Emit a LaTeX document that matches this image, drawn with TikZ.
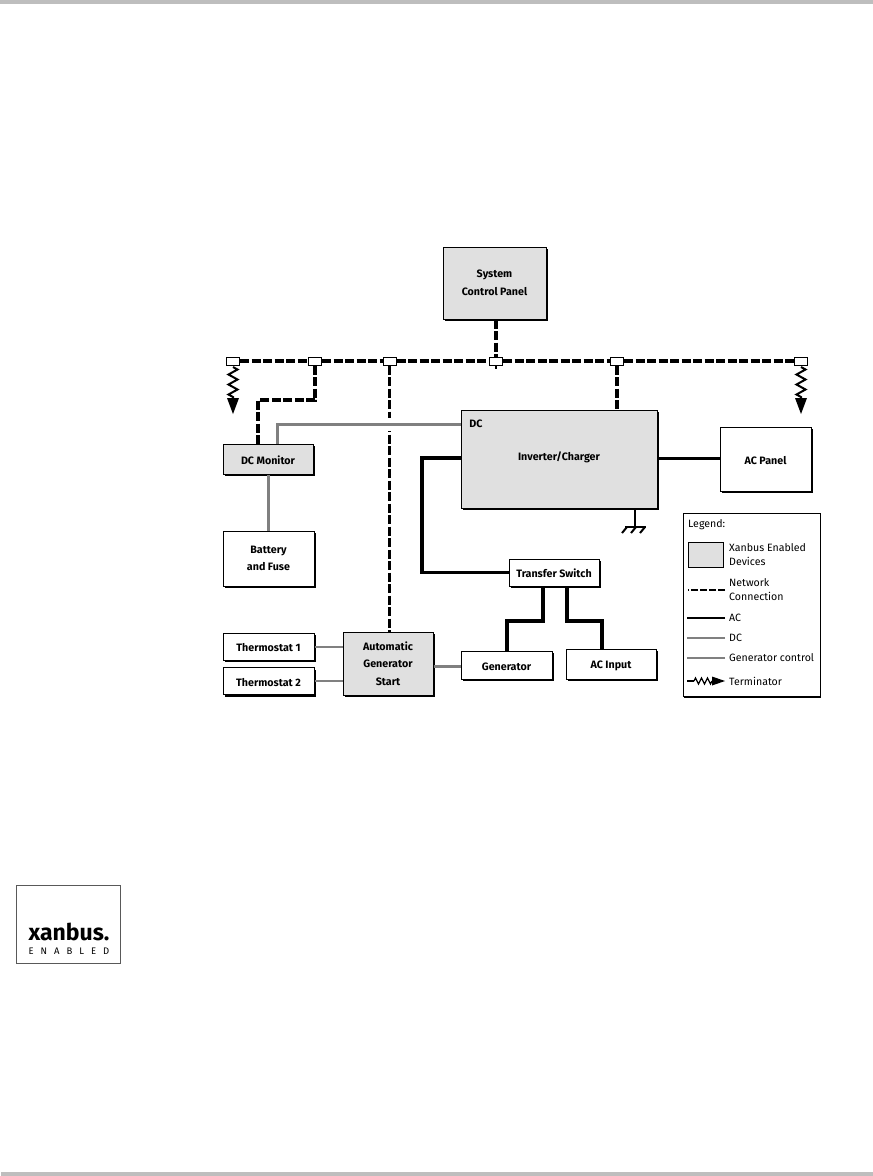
\documentclass[tikz,border=0pt]{standalone}
\usepackage{fontspec}
\setmainfont{Fira Sans}
\usetikzlibrary{shadows,decorations.pathmorphing}
\definecolor{devgray}{HTML}{E0E0E0}
\definecolor{wiregray}{HTML}{808080}
\definecolor{pagegray}{HTML}{BEBEBE}
\tikzset{
  plainbox/.style={draw=black,fill=white,line width=1pt,align=center,font=\fontsize{10.7}{17.5}\selectfont\bfseries,inner sep=0pt,
    execute at begin node={\rule{0pt}{11pt}},
    drop shadow={shadow xshift=2pt,shadow yshift=-2pt,fill=black,opacity=1}},
  devbox/.style={plainbox,fill=devgray},
  lowtext/.style={execute at begin node={\rule{0pt}{15pt}}},
  boxlabel/.style={font=\fontsize{10.7}{13}\selectfont\bfseries,inner sep=0pt},
  tapbox/.style={draw=black,fill=white,line width=1pt,minimum width=13,minimum height=8,inner sep=0pt},
  netwire/.style={line width=3.8pt,dash pattern=on 9pt off 2.5pt},
  acwire/.style={line width=3.8pt},
  dcwire/.style={line width=3pt,draw=wiregray},
  genwire/.style={line width=2pt,draw=wiregray},
  termwire/.style={line width=2pt,decorate,decoration={zigzag,amplitude=4.5pt,segment length=10pt}},
  legtext/.style={anchor=west,align=left,font=\fontsize{10.6}{14}\selectfont,inner sep=0pt},
}
\begin{document}
\begin{tikzpicture}[x=1pt,y=-1pt]
\useasboundingbox (0,0) rectangle (873,1176);
\fill[pagegray] (0,0) rectangle (873,4);
\fill[pagegray] (1,1172) rectangle (873,1176);

\node[devbox,lowtext,minimum width=103,minimum height=72] (panel) at (494.5,283) {System\\Control Panel};
\node[devbox,minimum width=196,minimum height=98] (inverter) at (559,459) {};
\node[boxlabel] (invlabel) at (559,457) {Inverter/Charger};
\node[boxlabel] (dclabel) at (476,424) {DC};
\node[plainbox,minimum width=91,minimum height=64] (acpanel) at (765.5,459) {AC Panel};
\node[devbox,minimum width=90,minimum height=30] (dcmonitor) at (268,459) {DC Monitor};
\node[plainbox,lowtext,minimum width=91,minimum height=55] (battery) at (268.5,558.5) {Battery\\and Fuse};
\node[plainbox,minimum width=90,minimum height=27] (transfer) at (554,572.5) {Transfer Switch};
\node[plainbox,minimum width=91,minimum height=27] (thermo1) at (268.5,646.5) {Thermostat 1};
\node[plainbox,minimum width=91,minimum height=27] (thermo2) at (268.5,681) {Thermostat 2};
\node[devbox,lowtext,minimum width=90,minimum height=63] (ags) at (388,663.5) {Automatic\\Generator\\Start};
\node[plainbox,minimum width=91,minimum height=28] (generator) at (506.5,665) {Generator};
\node[plainbox,minimum width=90,minimum height=30] (acinput) at (611,664) {AC Input};

% bus tap points
\node[tapbox] (tapa) at (233,361) {};
\node[tapbox] (tapb) at (315,361) {};
\node[tapbox] (tapc) at (389.5,361) {};
\node[tapbox] (tapd) at (496,361) {};
\node[tapbox] (tape) at (617,361) {};
\node[tapbox] (tapf) at (801,361) {};

\draw[netwire] (tapa) -- (tapb);
\draw[netwire] (tapb) -- (tapc);
\draw[netwire] (tapc) -- (tapd);
\draw[netwire] (tapd) -- (tape);
\draw[netwire] (tape) -- (tapf);
\draw[netwire] (panel.south -| tapd) -- (tapd);
\draw[line width=2pt] (tapd.south) -- ++(0,3);
\draw[netwire] (tape) -- (tape |- inverter.north);
\draw[netwire,line width=3pt] (tapc) -- (tapc |- ags.north);
\coordinate (dcknee) at (315,400);
\coordinate (dcdown) at (258,400);
\draw[netwire] (tapb) -- (dcknee) -- (dcdown) -- (258,444);

% DC wiring, with a gap where it crosses the network drop
\coordinate (dcup) at (277,424);
\draw[white,line width=13pt] (382,424) -- (397,424);
\draw[dcwire] (277,444) -- (dcup) -- (461,424);
\draw[dcwire] (dcmonitor.south -| battery) -- (battery);
\draw[dcwire] (ags.east |- 0,666) -- (generator.west |- 0,666);

% AC wiring
\draw[acwire] (inverter.west |- 0,458) -- (422,458) |- (transfer.west);
\draw[line width=3pt] (inverter.east |- 0,458) -- (acpanel.west |- 0,458);
\draw[acwire] (543,586) -- (543,621) -- (507,621) -- (507,651);
\draw[acwire] (567,586) -- (567,621) -- (602,621) -- (602,649);

\draw[genwire] (thermo1.east) -- (ags.west |- thermo1.east);
\draw[genwire] (thermo2.east) -- (ags.west |- thermo2.east);

% terminators
\coordinate (terma) at (233,398);
\coordinate (termb) at (801,398);
\draw[termwire] (233,367) -- (terma);
\draw[termwire] (801,367) -- (termb);
\fill (227,398) -- (239,398) -- (233,414) -- cycle;
\fill (795,398) -- (807,398) -- (801,414) -- cycle;

% ground
\coordinate (gnd) at (635,527);
\draw[line width=2pt] (635,508) -- (gnd);
\draw[line width=2pt] (625,527) -- (646,527);
\draw[line width=2pt] (627,527) -- (622,533);
\draw[line width=2pt] (636,527) -- (631,533);
\draw[line width=2pt] (645,527) -- (640,533);

% legend
\node[draw=black,fill=white,line width=1pt,minimum width=137,minimum height=183,
  drop shadow={shadow xshift=1pt,shadow yshift=-1pt,fill=black,opacity=1}] (legend) at (751.5,605) {};
\node[legtext] (legtitle) at (688,525) {Legend:};
\node[draw=black,fill=devgray,line width=1pt,minimum width=35,minimum height=25,inner sep=0pt,
  drop shadow={shadow xshift=1pt,shadow yshift=-1pt,fill=black,opacity=1}] (legdev) at (705.5,554.5) {};
\node[legtext] (legxan) at (729,555) {Xanbus Enabled\\Devices};
\node[legtext] (legnet) at (729,590) {Network\\Connection};
\node[legtext] (legac) at (729,618) {AC};
\node[legtext] (legdc) at (729,638) {DC};
\node[legtext] (leggen) at (729,658) {Generator control};
\node[legtext] (legterm) at (729,681) {Terminator};
\draw[line width=2.6pt,dash pattern=on 7pt off 2pt] (legnet.west) ++(-4,0) -- (688,590);
\draw[line width=2.8pt] (legac.west) ++(-4,0) -- (687,618);
\draw[dcwire,line width=2.4pt] (legdc.west) ++(-4,0) -- (687,638);
\draw[genwire,line width=1.5pt] (leggen.west) ++(-4,0) -- (687,658);
\draw[line width=1.5pt] (687,681) -- (694,681);
\draw[line width=1.3pt,decorate,decoration={zigzag,amplitude=3pt,segment length=6pt}] (694,681) -- (712,681);
\fill (712,676.5) -- (725,681) -- (712,685.5) -- cycle;

% logo
\node[draw=black!65,fill=white,line width=1pt,minimum width=104,minimum height=78] (logo) at (68,924) {};
\node[font=\fontsize{23}{24}\selectfont\bfseries,inner sep=0pt] (logoname) at (69,932) {xanbus.};
\node[font=\fontsize{9.5}{10}\selectfont,inner sep=0pt] (logosub) at (69,951) {E\hspace{7pt}N\hspace{7pt}A\hspace{7pt}B\hspace{7pt}L\hspace{7pt}E\hspace{7pt}D};
\end{tikzpicture}
\end{document}
